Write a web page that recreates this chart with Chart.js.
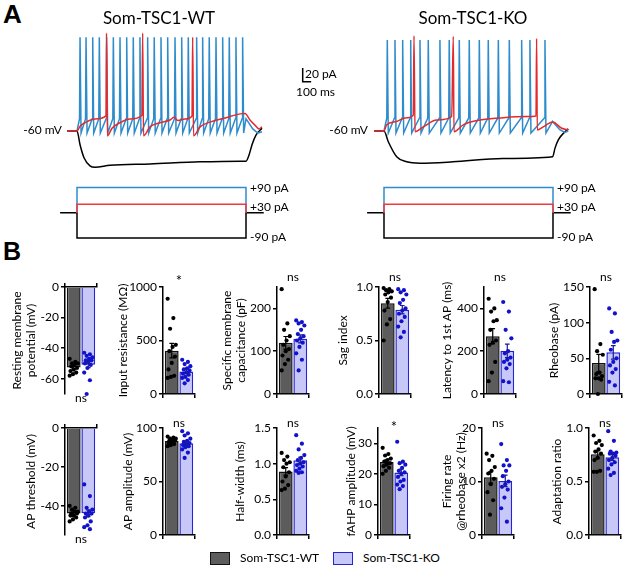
<!DOCTYPE html>
<html>
<head>
<meta charset="utf-8">
<script src="https://cdn.jsdelivr.net/npm/chart.js@4.4.1/dist/chart.umd.min.js"></script>
<style>
  body { margin: 0; background: #fff; }
  #fig { position: relative; width: 625px; height: 568px; overflow: hidden; font-family: Lato, "Open Sans", sans-serif; color: #000; }
  #fig canvas { position: absolute; }
  .t { position: absolute; white-space: nowrap; line-height: 1; }
  .sw { position: absolute; box-sizing: border-box; }
</style>
</head>
<body>
<div id="fig"></div>
<script>
// ---- Panel A: voltage traces, [time ms, mV] ----
const wtBlack = [[-118,-60],[0,-60],[36,-80],[83,-99],[154,-111],[213,-113],[390,-110],[864,-108],[1456,-105],[1929,-104],[2000,-104],[2036,-95],[2071,-80],[2118,-66],[2189,-56]];
const wtRed = [[-118,-60],[0,-60],[36,-53],[107,-47],[213,-42.5],[343,-38],[349,83],[361,-67],[414,-56],[509,-48],[627,-42.5],[769,-37],[777,83],[787,-67],[864,-54],[982,-48],[1100,-44],[1148,-40],[1195,-44.7],[1278,-42.5],[1361,-38],[1369,77],[1379,-67],[1456,-54],[1574,-47],[1751,-41],[1929,-35],[1988,-34.5],[2047,-44],[2118,-53],[2154,-57],[2189,-54]];
const wtBlueSpikes = [36,107,186,264,351,430,509,588,666,745,836,914,994,1073,1160,1239,1317,1416,1487,1565,1645,1724,1802,1881,1960];
const wtBlueTail = [[2000,-42],[2080,-57],[2140,-63],[2189,-61]];
const wtSpikeShape = [77, -42, -63]; // peak, threshold, AHP

const koBlack = [[-118,-60],[0,-60],[51,-75.6],[150,-97.5],[268,-105],[426,-107],[817,-105],[1408,-100],[1996,-97.5],[2024,-85],[2063,-73],[2142,-61],[2181,-57]];
const koRed = [[-118,-60],[0,-60],[32,-51],[150,-46],[249,-41],[347,-37],[355,79],[367,-61],[465,-54],[624,-44],[801,-39],[820,78],[828,-61],[938,-51],[1136,-44],[1412,-40.6],[1689,-39],[1799,-38],[1806,75],[1814,-58.5],[1885,-54],[1996,-47],[2103,-56],[2181,-58.5]];
const koBlueSpikes = [39,130,221,316,426,524,662,772,891,1009,1128,1234,1353,1483,1629,1727,1905];
const koBlueTail = [[1995,-46],[2080,-58],[2140,-62],[2181,-60]];
const koSpikeShape = [73, -41, -63];

// current steps (pA) and step duration (ms)
const stepAmps = [90, 30, -90];
const stepLabels = ["+90 pA", "+30 pA", "-90 pA"];
const stepMs = 2000;
const scaleBar = [100, 20]; // ms, amplitude

// ---- Panel B: individual cells ----
const rmpWT = [-47,-49,-50,-50,-51,-52,-53,-54,-55,-56,-57,-58];
const rmpKO = [-43,-44,-45,-46,-47,-48,-48,-49,-50,-51,-53,-56,-61,-70];
const rinWT = [890,710,610,460,440,400,350,290,230,170,160,150];
const rinKO = [320,300,280,260,240,230,220,200,190,180,160,150,130,100];
const capWT = [245,165,150,135,125,115,105,100,90,80,70,55];
const capKO = [172,168,165,160,150,140,135,130,125,120,110,95,80,55];
const sagWT = [0.99,0.98,0.97,0.96,0.95,0.93,0.90,0.86,0.78,0.70,0.65,0.50];
const sagKO = [0.98,0.97,0.95,0.93,0.88,0.85,0.80,0.78,0.75,0.72,0.68,0.63,0.58,0.53];
const latWT = [445,400,385,345,340,300,250,240,230,150,100,60];
const latKO = [430,385,300,260,200,190,170,160,150,140,120,60,55];
const rheoWT = [147,70,60,55,30,28,25,22,22,20,0];
const rheoKO = [120,113,87,75,73,62,50,45,40,35,30,17,12];
const thrWT = [-40,-41,-42,-43,-43,-44,-44,-45,-45,-46,-47,-48];
const thrKO = [-29,-35,-41,-42,-43,-44,-44,-45,-46,-48,-50,-51,-52];
const ampWT = [92,91,90,90,89,88,88,87,86,85,84,83];
const ampKO = [97,95,93,90,88,87,86,85,84,83,82,80,77,72];
const hwWT = [1.15,1.10,1.05,1.02,1.00,0.95,0.88,0.82,0.75,0.70,0.65,0.63];
const hwKO = [1.40,1.28,1.20,1.12,1.08,1.05,1.02,1.00,0.98,0.96,0.93,0.90,0.88,0.87];
const fahpWT = [28.5,26.5,26,25,24.5,24,23.5,23,22.5,22,21,20];
const fahpKO = [30.5,24,23.5,23,22,21,20.5,20,19,18,17.5,16.5,16,15];
const frWT = [15.2,14.8,14,12.7,12,11.5,10.5,9.5,8,6.5,3.8];
const frKO = [17,14,13,13,12,11,10,9.5,9,8.5,7,5,2.5];
const adaptWT = [0.93,0.88,0.86,0.84,0.80,0.78,0.76,0.72,0.70,0.60,0.59,0.59];
const adaptKO = [0.97,0.88,0.78,0.77,0.76,0.76,0.74,0.72,0.70,0.68,0.66,0.62,0.58,0.56];

const axisTitles = [["Resting membrane","potential (mV)"], "Input resistance (MΩ)", ["Specific membrane","capacitance (pF)"], "Sag index", "Latency to 1st AP (ms)", "Rheobase (pA)",
                    "AP threshold (mV)", "AP amplitude (mV)", "Half-width (ms)", "fAHP amplitude (mV)", ["Firing rate","@rheobase x2 (Hz)"], "Adaptation ratio"];
const groupsWT = [rmpWT, rinWT, capWT, sagWT, latWT, rheoWT, thrWT, ampWT, hwWT, fahpWT, frWT, adaptWT];
const groupsKO = [rmpKO, rinKO, capKO, sagKO, latKO, rheoKO, thrKO, ampKO, hwKO, fahpKO, frKO, adaptKO];
const yMin = [-70, 0, 0, 0, 0, 0, -55, 0, 0, 0, 0, 0];
const yMax = [0, 1000, 250, 1, 500, 150, 0, 100, 1.5, 35, 20, 1];
const yStep = [20, 500, 100, 0.5, 200, 50, 20, 50, 0.5, 10, 10, 0.5];
const sigLabels = ["ns", "*", "ns", "ns", "ns", "ns", "ns", "ns", "ns", "*", "ns", "ns"];
const legendNames = ["Som-TSC1-WT", "Som-TSC1-KO"];

// ---- layout (pixels) ----
const axisXs = [65, 163, 277, 379, 484, 590, 65, 163, 277, 378, 482, 589];
const titleLefts = [12, 118, 222, 338, 442, 549, 26, 123, 235, 346, 442, 552];
const rowTop = [287, 428];
const rowBottom = [394, 535];

const FONT = 'Lato, "Open Sans", sans-serif';
Chart.defaults.font.family = FONT;
Chart.defaults.color = "#000";
Chart.defaults.animation = false;

const fig = document.getElementById("fig");

function text(str, x, y, align, size, extra) {
  const d = document.createElement("div");
  d.className = "t";
  d.textContent = str;
  d.style.fontSize = size + "px";
  d.style.top = y + "px";
  const tx = align === "center" ? "-50%" : align === "right" ? "-100%" : "0";
  d.style.left = x + "px";
  d.style.transform = `translate(${tx}, -50%)`;
  if (extra) Object.assign(d.style, extra);
  fig.appendChild(d);
}

function addCanvas(left, top, w, h) {
  const c = document.createElement("canvas");
  c.width = w; c.height = h;
  c.style.left = left + "px"; c.style.top = top + "px";
  c.style.width = w + "px"; c.style.height = h + "px";
  fig.appendChild(c);
  return c;
}

const toXY = pts => pts.map(([x, y]) => ({x, y}));

function spikeTrain(times, shape, tail) {
  const [peak, thr, ahp] = shape;
  const pts = [[0, -60]];
  times.forEach(t => pts.push([t - 6, thr], [t, peak], [t + 12, ahp]));
  return toXY(pts.concat(tail));
}

function stepPath(amp, pre, post) {
  const p = [[0, 0], [0, amp], [stepMs, amp], [stepMs, 0]];
  if (pre !== undefined) { p.unshift([pre, 0]); p.push([post, 0]); }
  return toXY(p);
}

function line(data, color, yAxisID, smooth) {
  return { data, borderColor: color, borderWidth: 1.5, pointRadius: 0, yAxisID, clip: false,
           tension: 0, cubicInterpolationMode: smooth ? "monotone" : "default" };
}

// ---- Panel A charts ----
function traceChart(left, width, xMin, xMax, black, red, spikes, shape, tail, withBar) {
  const cv = addCanvas(left, 25, width, 220);
  const ds = [
    line(toXY(red), "#e52a2e", "yV", true),
    line(spikeTrain(spikes, shape, tail), "#2f8ccc", "yV", false),
    line(toXY(black), "#000", "yV", true),
    line(stepPath(stepAmps[1]), "#ee3b3b", "yI"),
    line(stepPath(stepAmps[0]), "#2f8ccc", "yI"),
    line(stepPath(stepAmps[2], -200, 2210), "#000", "yI")
  ];
  if (withBar) {
    ds.push(line(toXY([[2671, 12 + scaleBar[1]], [2671, 12], [2671 + scaleBar[0], 12]]), "#000", "yV"));
  }
  new Chart(cv, {
    type: "line",
    data: { datasets: ds },
    options: {
      responsive: false, parsing: true,
      layout: { padding: 0 },
      plugins: { legend: { display: false }, tooltip: { enabled: false } },
      scales: {
        x: { type: "linear", display: false, min: xMin, max: xMax },
        yV: { type: "linear", display: false, min: -226.4, max: 94.74 },
        yI: { type: "linear", display: false, min: -115.4, max: 670.4 }
      }
    }
  });
}

traceChart(60, 260, -201.2, 2875.7, wtBlack, wtRed, wtBlueSpikes, wtSpikeShape, wtBlueTail, true);
traceChart(360, 215, -284, 2260.4, koBlack, koRed, koBlueSpikes, koSpikeShape, koBlueTail, false);

text("A", 3, 14, "left", 26, { fontWeight: "bold", fontFamily: '"Liberation Sans", Arial, sans-serif' });
text("B", 3, 251, "left", 25, { fontWeight: "bold", fontFamily: '"Liberation Sans", Arial, sans-serif' });
text(legendNames[0], 159, 17, "center", 17);
text(legendNames[1], 473, 17, "center", 17);
text("-60 mV", 62, 130, "right", 12);
text("-60 mV", 368, 130, "right", 12);
const stepY = [188, 207, 237];
[250, 557].forEach(x => stepLabels.forEach((s, i) => text(s, x, stepY[i], "left", 12)));
text(scaleBar[1] + " pA", 305, 74, "left", 12);
text(scaleBar[0] + " ms", 296, 92, "left", 12);

// ---- Panel B charts ----
const mean = a => a.reduce((s, v) => s + v, 0) / a.length;
const sem = a => { const m = mean(a); return Math.sqrt(a.reduce((s, v) => s + (v - m) ** 2, 0) / (a.length - 1) / a.length); };
const jit = j => (((j * 7) % 11) / 10 - 0.5) * 0.56;

const PLOT_W = 33, AXH = 10;

function barChart(i) {
  const row = i < 6 ? 0 : 1;
  const xTop = yMax[i] === 0;
  const top = rowTop[row], bottom = rowBottom[row];
  const left = titleLefts[i] - 2;
  const W = axisXs[i] - left;
  const pad = xTop ? { top: 4, bottom: 16, left: 0, right: 3 } : { top: 18, bottom: 4, left: 0, right: 3 };
  const cTop = top - pad.top - (xTop ? AXH : 0);
  const h = pad.top + pad.bottom + AXH + (bottom - top);
  const cv = addCanvas(left, cTop, W + PLOT_W + 3, h);
  const wt = groupsWT[i], ko = groupsKO[i];
  const stats = [[mean(wt), sem(wt)], [mean(ko), sem(ko)]];
  const dec = yStep[i] < 1;

  const decor = {
    id: "decor" + i,
    afterDatasetsDraw(chart) {
      const {ctx, chartArea} = chart;
      const xs = chart.scales.x, ys = chart.scales.y;
      ctx.save();
      ctx.lineWidth = 1.2;
      stats.forEach(([m, s], g) => {
        const x = xs.getPixelForValue(g);
        const cap = xs.getPixelForValue(g + 0.16) - x;
        const y1 = ys.getPixelForValue(m + s), y2 = ys.getPixelForValue(m - s);
        ctx.strokeStyle = g === 0 ? "#000" : "#1a1a9a";
        ctx.beginPath();
        ctx.moveTo(x, y1); ctx.lineTo(x, y2);
        ctx.moveTo(x - cap, y1); ctx.lineTo(x + cap, y1);
        ctx.moveTo(x - cap, y2); ctx.lineTo(x + cap, y2);
        ctx.stroke();
      });
      const sx = xs.getPixelForValue(0.5);
      const star = sigLabels[i] === "*";
      ctx.fillStyle = "#000";
      ctx.textAlign = "center";
      ctx.textBaseline = "middle";
      ctx.font = (star ? "15px " : "12px ") + FONT;
      let sy;
      if (xTop) sy = chartArea.bottom + 4;
      else sy = chartArea.top - (row === 0 ? 10 : 5) + (star ? 4 : 0);
      ctx.fillText(sigLabels[i], sx, sy);
      ctx.restore();
    }
  };

  new Chart(cv, {
    type: "bar",
    data: {
      datasets: [
        { type: "scatter", data: wt.map((v, j) => ({x: jit(j), y: v})), backgroundColor: "#000", borderWidth: 0, pointRadius: 2.1, clip: false },
        { type: "scatter", data: ko.map((v, j) => ({x: 1 + jit(j), y: v})), backgroundColor: "#1212cc", borderWidth: 0, pointRadius: 2.1, clip: false },
        { type: "bar", data: [{x: 0, y: stats[0][0]}, {x: 1, y: stats[1][0]}],
          backgroundColor: ["#5c5c5c", "#c8c8f8"], borderColor: ["#111", "#2424d6"], borderWidth: 1.5,
          barPercentage: 0.95, categoryPercentage: 1, clip: false }
      ]
    },
    options: {
      responsive: false,
      layout: { padding: pad },
      plugins: { legend: { display: false }, tooltip: { enabled: false } },
      scales: {
        x: {
          type: "linear", min: -0.6, max: 1.6, position: xTop ? "top" : "bottom", offset: false,
          afterBuildTicks: s => { s.ticks = [{ value: 0.5 }]; },
          afterFit: s => { s.height = AXH; },
          ticks: { display: false },
          grid: { drawOnChartArea: false, drawTicks: true, tickLength: 4, color: "#000", lineWidth: 1.5 },
          border: { display: true, color: "#000", width: 1.5 }
        },
        y: {
          type: "linear", min: yMin[i], max: yMax[i],
          afterFit: s => { s.width = W; },
          ticks: { stepSize: yStep[i], includeBounds: false, padding: 2, font: { size: 12 },
                   callback: v => dec ? v.toFixed(1) : String(v) },
          grid: { drawOnChartArea: false, drawTicks: true, tickLength: 4, color: "#000", lineWidth: 1.5 },
          border: { display: true, color: "#000", width: 1.5 },
          title: { display: true, text: axisTitles[i], padding: 0, font: { size: 12 }, color: "#000" }
        }
      }
    },
    plugins: [decor]
  });
}

for (let i = 0; i < 12; i++) barChart(i);

// legend
function swatch(x, fill, border) {
  const d = document.createElement("div");
  d.className = "sw";
  Object.assign(d.style, { left: x + "px", top: "552px", width: "20px", height: "13px", background: fill, border: "1.5px solid " + border });
  fig.appendChild(d);
}
swatch(210, "#5c5c5c", "#111");
text(legendNames[0], 240, 558, "left", 12);
swatch(333, "#c8c8f8", "#2424d6");
text(legendNames[1], 363, 558, "left", 12);
</script>
</body>
</html>
